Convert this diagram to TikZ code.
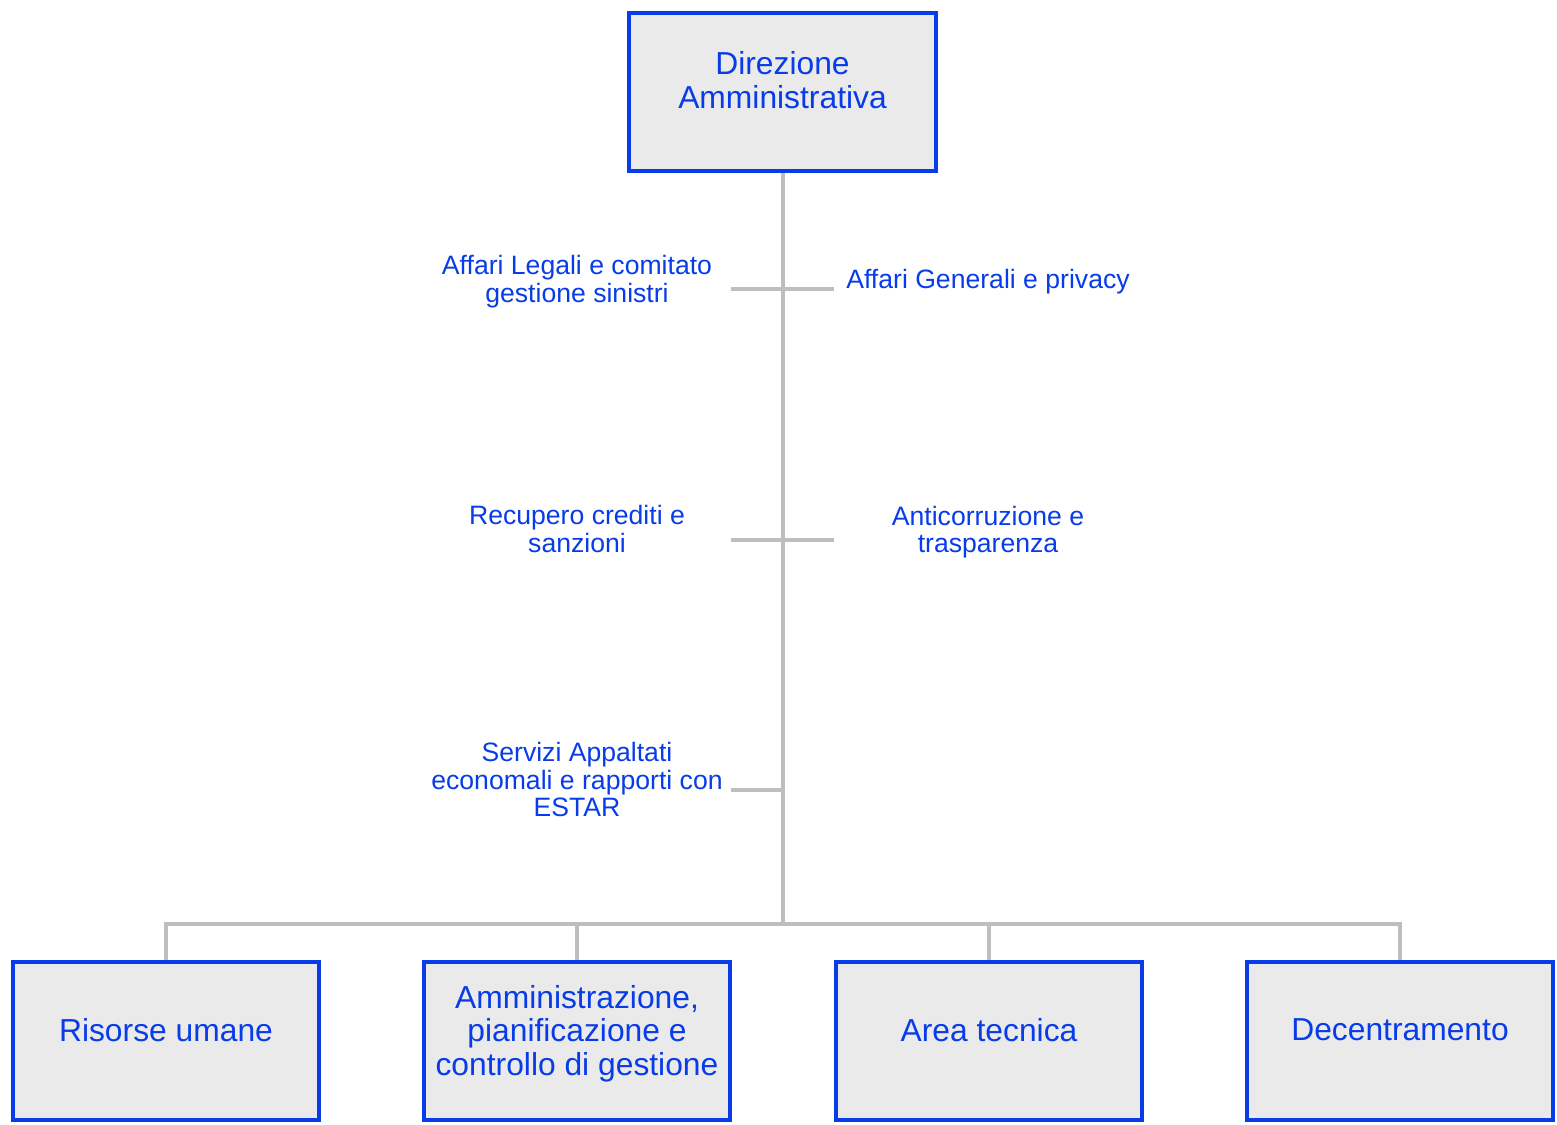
\documentclass[tikz,border=0pt]{standalone}
\usepackage{fontspec}
\setmainfont{Liberation Sans}
\begin{document}
\definecolor{orgblue}{RGB}{8,60,232}
\definecolor{orgfill}{RGB}{234,234,234}
\definecolor{orgline}{RGB}{190,190,190}
\begin{tikzpicture}[x=1pt,y=-1pt,
  unitbox/.style={draw=orgblue,fill=orgfill,line width=4pt,minimum width=306pt,minimum height=158pt,inner sep=0pt},
  boxtext/.style={text=orgblue,align=center,font=\fontsize{31.8}{33.5}\selectfont,inner sep=0pt},
  sidetext/.style={text=orgblue,align=center,font=\fontsize{26.6}{27.5}\selectfont,inner sep=0pt},
  link/.style={draw=orgline,line width=4pt}]
\useasboundingbox (0,0) rectangle (1557,1124);

% top unit
\node[unitbox,minimum width=307pt] (dir) at (782.5,92) {};
\node[boxtext] (dirT) at (782.5,80) {Direzione\\Amministrativa};

% bottom units
\node[unitbox] (ru) at (166,1041) {};
\node[unitbox] (apc) at (577,1041) {};
\node[unitbox] (at) at (989,1041) {};
\node[unitbox] (dec) at (1400,1041) {};
\node[boxtext] (ruT) at (166,1030) {Risorse umane};
\node[boxtext] (apcT) at (577,1033.5) {Amministrazione,\\pianificazione e\\controllo di gestione};
\node[boxtext] (atT) at (989,1030) {Area tecnica};
\node[boxtext] (decT) at (1400,1030) {Decentramento};

% staff offices
\node[sidetext] (legali) at (577,281.5) {Affari Legali e comitato\\gestione sinistri};
\node[sidetext] (generali) at (988,282) {Affari Generali e privacy};
\node[sidetext] (crediti) at (577,529) {Recupero crediti e\\sanzioni};
\node[sidetext] (anticor) at (988,532) {Anticorruzione e\\trasparenza};
\node[sidetext] (appalti) at (577,779.5) {Servizi Appaltati\\economali e rapporti con\\ESTAR};

% connectors
\coordinate (bus) at (782.5,924);
\coordinate (t1l) at (731,289);
\coordinate (t1r) at (834,289);
\coordinate (t2l) at (731,540);
\coordinate (t2r) at (834,540);
\coordinate (t3l) at (731,790);
\coordinate (t3r) at (782.5,790);
\draw[link] (dir.south) -- (bus);
\draw[link] (t1l) -- (t1r);
\draw[link] (t2l) -- (t2r);
\draw[link] (t3l) -- (t3r);
\draw[link] (ru.north) |- (bus);
\draw[link] (apc.north) |- (bus);
\draw[link] (dec.north) |- (bus);
\draw[link] (at.north) |- (bus);
\end{tikzpicture}
\end{document}
